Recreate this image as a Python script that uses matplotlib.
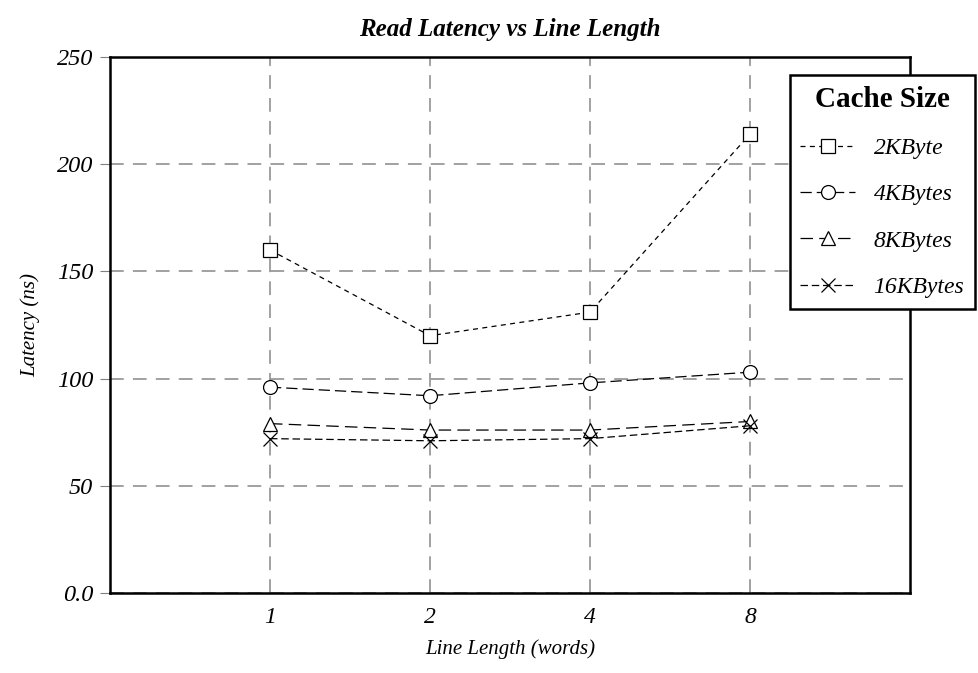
import matplotlib
matplotlib.use('Agg')
import matplotlib.pyplot as plt

line_lengths = ['1', '2', '4', '8']
series_names = ['2KByte', '4KBytes', '8KBytes', '16KBytes']
lat_2k = [160, 120, 131, 214]
lat_4k = [96, 92, 98, 103]
lat_8k = [79, 76, 76, 80]
lat_16k = [72, 71, 72, 78]

plt.rcParams['font.family'] = 'Liberation Serif'

fig = plt.figure(figsize=(9.79, 6.73), dpi=100)
ax = fig.add_axes([110 / 979, 80 / 673, 800 / 979, 536 / 673])

x = list(range(1, len(line_lengths) + 1))
styles = [
    ('s', (0, (4, 3.5))),
    ('o', (0, (9, 4))),
    ('^', (0, (10, 5))),
    ('x', (0, (6, 3))),
]
for vals, name, (mk, ls) in zip([lat_2k, lat_4k, lat_8k, lat_16k], series_names, styles):
    ax.plot(x, vals, color='black', linewidth=0.9, linestyle=ls, marker=mk,
            markersize=10, markerfacecolor='white', markeredgecolor='black',
            markeredgewidth=0.9, label=name)

ax.set_xlim(0, 5)
ax.set_ylim(0, 250)
ax.set_xticks(x)
ax.set_xticklabels(line_lengths)
ax.set_yticks([0, 50, 100, 150, 200, 250])
ax.set_yticklabels(['0.0', '50', '100', '150', '200', '250'])
ax.tick_params(axis='x', length=0, labelsize=17, pad=10)
ax.tick_params(axis='y', length=7, labelsize=17.5, pad=5, width=0.8, color='gray')
for lab in ax.get_xticklabels() + ax.get_yticklabels():
    lab.set_fontstyle('italic')

ax.grid(True, color='#888888', linestyle=(0, (9, 6)), linewidth=1.1)
ax.set_axisbelow(True)
for sp in ax.spines.values():
    sp.set_linewidth(1.8)

ax.set_xlabel('Line Length (words)', fontsize=15, fontstyle='italic', labelpad=8)
ax.set_ylabel('Latency (ns)', fontsize=15, fontstyle='italic', labelpad=12)
ax.set_title('Read Latency vs Line Length', fontsize=18, fontweight='bold',
             fontstyle='italic', pad=15)

leg = ax.legend(loc='upper right', bbox_to_anchor=(975 / 979, 1 - 75 / 673),
                bbox_transform=fig.transFigure, borderaxespad=0, title='Cache Size',
                prop={'style': 'italic', 'size': 17}, frameon=True, fancybox=False,
                edgecolor='black', framealpha=1, handlelength=2.3,
                handletextpad=0.8, labelspacing=1.05, borderpad=0.45)
leg.get_title().set_fontweight('bold')
leg.get_title().set_fontsize(21)
leg.get_frame().set_linewidth(1.8)

fig.savefig('out.png', dpi=100)
